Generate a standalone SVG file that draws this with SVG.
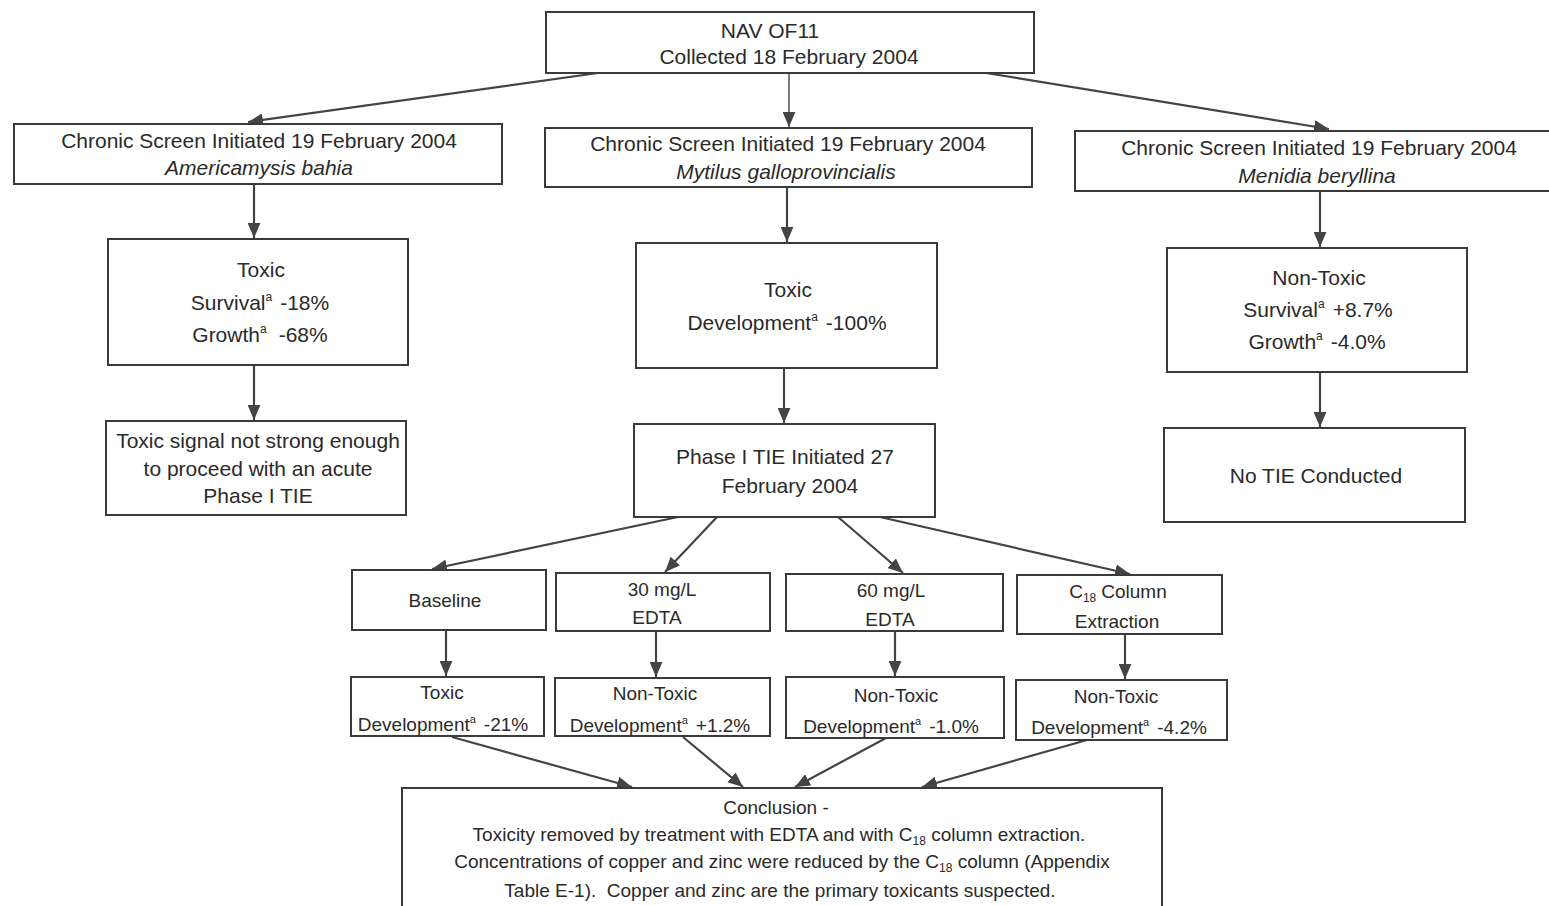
<svg xmlns="http://www.w3.org/2000/svg" width="1549" height="906" viewBox="0 0 1549 906">
<style>
.box{fill:#fff;stroke:#3a3a3a;stroke-width:2}
.t{font-family:"Liberation Sans",Arial,sans-serif;font-size:21px;fill:#2a2a2a;text-anchor:middle}
.s{font-size:19px}
.c{font-size:19px}
.i{font-style:italic}
.con{stroke:#444;stroke-width:2.2;fill:none;marker-end:url(#ah)}
</style>
<defs>
<marker id="ah" viewBox="0 0 14 12" refX="14" refY="6" markerWidth="15" markerHeight="13" markerUnits="userSpaceOnUse" orient="auto">
<path d="M0,0 L14,6 L0,12 z" fill="#444"/>
</marker>
</defs>
<rect width="1549" height="906" fill="#fff"/>

<g id="connectors">
<line class="con" x1="605" y1="72" x2="248" y2="122"/>
<line class="con" x1="789" y1="73" x2="789" y2="127" style="stroke-width:1.4"/>
<line class="con" x1="980" y1="72" x2="1329" y2="129"/>
<line class="con" x1="254" y1="184" x2="254" y2="238"/>
<line class="con" x1="787" y1="188" x2="787" y2="242"/>
<line class="con" x1="1320" y1="192" x2="1320" y2="247"/>
<line class="con" x1="254" y1="365" x2="254" y2="420"/>
<line class="con" x1="784" y1="369" x2="784" y2="423"/>
<line class="con" x1="1320" y1="373" x2="1320" y2="427"/>
<line class="con" x1="678" y1="517" x2="432" y2="569"/>
<line class="con" x1="717" y1="517" x2="665" y2="572"/>
<line class="con" x1="838" y1="517" x2="903" y2="573"/>
<line class="con" x1="880" y1="517" x2="1130" y2="574"/>
<line class="con" x1="446" y1="631" x2="446" y2="676"/>
<line class="con" x1="656" y1="631" x2="656" y2="677"/>
<line class="con" x1="895" y1="632" x2="895" y2="676"/>
<line class="con" x1="1125" y1="634" x2="1125" y2="679"/>
<line class="con" x1="452" y1="737" x2="632" y2="787"/>
<line class="con" x1="683" y1="737" x2="743" y2="787"/>
<line class="con" x1="886" y1="738" x2="795" y2="787"/>
<line class="con" x1="1087" y1="740" x2="922" y2="787"/>
</g>

<g id="n_top">
<rect class="box" x="546" y="12" width="488" height="61"/>
<text class="t" x="770" y="38">NAV OF11</text>
<text class="t" x="789" y="64">Collected 18 February 2004</text>
</g>

<g id="n_screen_left">
<rect class="box" x="14" y="124" width="488" height="60"/>
<text class="t" x="259" y="148">Chronic Screen Initiated 19 February 2004</text>
<text class="t i" x="259" y="175">Americamysis bahia</text>
</g>
<g id="n_screen_mid">
<rect class="box" x="545" y="128" width="487" height="59"/>
<text class="t" x="788" y="151">Chronic Screen Initiated 19 February 2004</text>
<text class="t i" x="786" y="179">Mytilus galloprovincialis</text>
</g>
<g id="n_screen_right">
<rect class="box" x="1075" y="131" width="480" height="60"/>
<text class="t" x="1319" y="155">Chronic Screen Initiated 19 February 2004</text>
<text class="t i" x="1317" y="183">Menidia beryllina</text>
</g>

<g id="n_result_left">
<rect class="box" x="108" y="239" width="300" height="126"/>
<text class="t" x="261" y="277">Toxic</text>
<text class="t" x="260" y="310">Survival<tspan font-size="12" dy="-9">a</tspan><tspan dy="9" dx="8">-18%</tspan></text>
<text class="t" x="260" y="342">Growth<tspan font-size="12" dy="-9">a</tspan><tspan dy="9" dx="12">-68%</tspan></text>
</g>
<g id="n_result_mid">
<rect class="box" x="636" y="243" width="301" height="125"/>
<text class="t" x="788" y="297">Toxic</text>
<text class="t" x="787" y="330">Development<tspan font-size="12" dy="-9">a</tspan><tspan dy="9" dx="8">-100%</tspan></text>
</g>
<g id="n_result_right">
<rect class="box" x="1167" y="248" width="300" height="124"/>
<text class="t" x="1319" y="285">Non-Toxic</text>
<text class="t" x="1318" y="317">Survival<tspan font-size="12" dy="-9">a</tspan><tspan dy="9" dx="8">+8.7%</tspan></text>
<text class="t" x="1317" y="349">Growth<tspan font-size="12" dy="-9">a</tspan><tspan dy="9" dx="8">-4.0%</tspan></text>
</g>

<g id="n_note_left">
<rect class="box" x="106" y="421" width="300" height="94"/>
<text class="t" x="258" y="448">Toxic signal not strong enough</text>
<text class="t" x="258" y="476">to proceed with an acute</text>
<text class="t" x="258" y="503">Phase I TIE</text>
</g>
<g id="n_tie">
<rect class="box" x="634" y="424" width="301" height="93"/>
<text class="t" x="785" y="464">Phase I TIE Initiated 27</text>
<text class="t" x="790" y="493">February 2004</text>
</g>
<g id="n_notie">
<rect class="box" x="1164" y="428" width="301" height="94"/>
<text class="t" x="1316" y="483">No TIE Conducted</text>
</g>

<g id="n_baseline">
<rect class="box" x="352" y="570" width="194" height="60"/>
<text class="t s" x="445" y="607">Baseline</text>
</g>
<g id="n_edta30">
<rect class="box" x="556" y="573" width="214" height="58"/>
<text class="t s" x="662" y="596">30 mg/L</text>
<text class="t s" x="657" y="624">EDTA</text>
</g>
<g id="n_edta60">
<rect class="box" x="786" y="574" width="217" height="57"/>
<text class="t s" x="891" y="597">60 mg/L</text>
<text class="t s" x="890" y="626">EDTA</text>
</g>
<g id="n_c18">
<rect class="box" x="1017" y="575" width="205" height="59"/>
<text class="t s" x="1118" y="598">C<tspan font-size="12" dy="4">18</tspan><tspan dy="-4" dx="5">Column</tspan></text>
<text class="t s" x="1117" y="628">Extraction</text>
</g>

<g id="n_res_baseline">
<rect class="box" x="351" y="677" width="193" height="59"/>
<text class="t s" x="442" y="699">Toxic</text>
<text class="t s" x="443" y="731">Development<tspan font-size="11" dy="-8">a</tspan><tspan dy="8" dx="8">-21%</tspan></text>
</g>
<g id="n_res_edta30">
<rect class="box" x="555" y="678" width="215" height="58"/>
<text class="t s" x="655" y="700">Non-Toxic</text>
<text class="t s" x="660" y="732">Development<tspan font-size="11" dy="-8">a</tspan><tspan dy="8" dx="8">+1.2%</tspan></text>
</g>
<g id="n_res_edta60">
<rect class="box" x="786" y="677" width="218" height="61"/>
<text class="t s" x="896" y="702">Non-Toxic</text>
<text class="t s" x="891" y="733">Development<tspan font-size="11" dy="-8">a</tspan><tspan dy="8" dx="8">-1.0%</tspan></text>
</g>
<g id="n_res_c18">
<rect class="box" x="1016" y="680" width="211" height="60"/>
<text class="t s" x="1116" y="703">Non-Toxic</text>
<text class="t s" x="1119" y="734">Development<tspan font-size="11" dy="-8">a</tspan><tspan dy="8" dx="8">-4.2%</tspan></text>
</g>

<g id="n_conclusion">
<rect class="box" x="402" y="788" width="760" height="125"/>
<text class="t s" x="776" y="814">Conclusion -</text>
<text class="t c" x="779" y="841">Toxicity removed by treatment with EDTA and with C<tspan font-size="12" dy="4">18</tspan><tspan dy="-4"> column extraction.</tspan></text>
<text class="t c" x="782" y="868">Concentrations of copper and zinc were reduced by the C<tspan font-size="12" dy="4">18</tspan><tspan dy="-4"> column (Appendix</tspan></text>
<text class="t c" x="780" y="897" xml:space="preserve">Table E-1).  Copper and zinc are the primary toxicants suspected.</text>
</g>
</svg>
